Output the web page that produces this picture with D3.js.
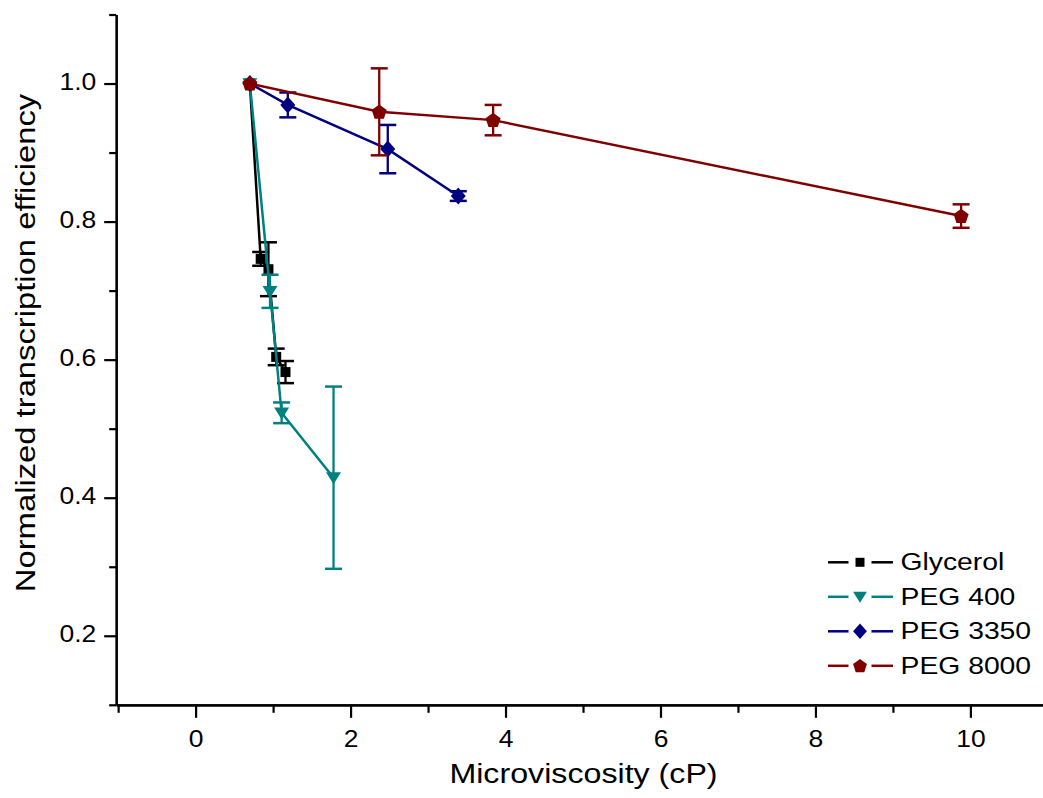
<!DOCTYPE html>
<html>
<head>
<meta charset="utf-8">
<script src="https://cdn.jsdelivr.net/npm/d3@7/dist/d3.min.js"></script>
<style>
  html, body { margin: 0; padding: 0; background: #fff; }
  svg { display: block; }
  text { font-family: "Liberation Sans", Arial, Helvetica, sans-serif; fill: #000; }
</style>
</head>
<body>
<svg id="chart" width="1043" height="798"></svg>
<script>
// ---- data ----
const seriesNames = ["Glycerol", "PEG 400", "PEG 3350", "PEG 8000"];

const glycerolX   = [0.70, 0.84, 0.94, 1.04, 1.16];
const glycerolY   = [1.000, 0.746, 0.731, 0.604, 0.582];
const glycerolErr = [0, 0.010, 0.039, 0.012, 0.016];

const peg400X   = [0.70, 0.96, 1.11, 1.78];
const peg400Y   = [1.000, 0.699, 0.523, 0.429];
const peg400Err = [0, 0.024, 0.015, 0.132];

const peg3350X   = [0.70, 1.19, 2.48, 3.39];
const peg3350Y   = [1.000, 0.969, 0.905, 0.837];
const peg3350Err = [0, 0.018, 0.035, 0.007];

const peg8000X   = [0.70, 2.37, 3.84, 9.88];
const peg8000Y   = [1.000, 0.959, 0.947, 0.808];
const peg8000Err = [0, 0.063, 0.022, 0.017];

const xMajorTicks = [0, 2, 4, 6, 8, 10];
const xMinorTicks = [-1, 1, 3, 5, 7, 9];
const yMajorTicks = [0.2, 0.4, 0.6, 0.8, 1.0];
const yMinorTicks = [0.1, 0.3, 0.5, 0.7, 0.9, 1.1];

const xTitle = "Microviscosity (cP)";
const yTitle = "Normalized transcription efficiency";

// ---- layout & style ----
const colors = ["#000000", "#008080", "#000080", "#800000"];
const markers = ["square", "triangleDown", "diamond", "pentagon"];
const stretch = 1.15;   // horizontal widening of the lettering

const svg = d3.select("#chart");
const plotLeft = 116.2, plotRight = 1043, plotTop = 14.5, plotBottom = 704.8;

const x = d3.scaleLinear().domain([-1.025, 10.937]).range([plotLeft, plotRight]);
const y = d3.scaleLinear().domain([0.1, 1.1]).range([plotBottom, plotTop]);

// marker path generators (centered at 0,0)
function markerPath(kind, k) {
  k = k || 1;
  if (kind === "square") {
    const h = 5 * k;
    return `M${-h},${-h}H${h}V${h}H${-h}Z`;
  }
  if (kind === "triangleDown") {
    const w = 7.5 * k, h = 12 * k;
    return `M${-w},${-h * 0.45}L${w},${-h * 0.45}L0,${h * 0.55}Z`;
  }
  if (kind === "diamond") {
    const w = 7.5 * k, h = 8.5 * k;
    return `M0,${-h}L${w},0L0,${h}L${-w},0Z`;
  }
  // pentagon, point up
  const r = 7.9 * k;
  const pts = d3.range(5).map(i => {
    const a = -Math.PI / 2 + i * 2 * Math.PI / 5;
    return [r * Math.cos(a), r * Math.sin(a) + 0.6 * k];
  });
  return "M" + pts.map(p => p.join(",")).join("L") + "Z";
}

// ---- axes ----
const gx = svg.append("g").attr("transform", `translate(0,${plotBottom})`);
gx.call(d3.axisBottom(x).tickValues(xMinorTicks).tickSize(8).tickSizeOuter(0).tickFormat(""));
gx.append("g").call(d3.axisBottom(x).tickValues(xMajorTicks).tickSize(13).tickSizeOuter(0)
  .tickFormat(d3.format("d")));
gx.selectAll("path.domain").attr("stroke-width", 2.2);
gx.selectAll(".tick line").attr("stroke-width", 2.2);
gx.selectAll(".tick text")
  .attr("y", null).attr("dy", null)
  .attr("transform", `translate(0,41.7) scale(${stretch},1)`)
  .attr("font-size", 23)
  .attr("fill", "#000")
  .style("font-family", '"Liberation Sans", Arial, sans-serif');

const gy = svg.append("g").attr("transform", `translate(${plotLeft},0)`);
gy.call(d3.axisLeft(y).tickValues(yMinorTicks).tickSize(7).tickSizeOuter(0).tickFormat(""));
gy.append("g").call(d3.axisLeft(y).tickValues(yMajorTicks).tickSize(12).tickSizeOuter(0)
  .tickFormat(d3.format(".1f")));
gy.selectAll("path.domain").attr("stroke-width", 2.2);
gy.selectAll(".tick line").attr("stroke-width", 2.2);
gy.selectAll(".tick text")
  .attr("x", null).attr("dy", null)
  .attr("transform", `translate(-20,6) scale(${stretch},1)`)
  .attr("font-size", 23)
  .attr("fill", "#000")
  .style("font-family", '"Liberation Sans", Arial, sans-serif');

// axis titles
svg.append("text")
  .attr("transform", `translate(583.5,783.3) scale(${stretch},1)`)
  .attr("text-anchor", "middle")
  .attr("font-size", 28)
  .text(xTitle);

svg.append("text")
  .attr("transform", `translate(35,343) rotate(-90) scale(${stretch},1)`)
  .attr("text-anchor", "middle")
  .attr("font-size", 28.5)
  .text(yTitle);

// ---- series ----
const series = [
  { name: seriesNames[0], xs: glycerolX, ys: glycerolY, es: glycerolErr },
  { name: seriesNames[1], xs: peg400X,   ys: peg400Y,   es: peg400Err },
  { name: seriesNames[2], xs: peg3350X,  ys: peg3350Y,  es: peg3350Err },
  { name: seriesNames[3], xs: peg8000X,  ys: peg8000Y,  es: peg8000Err }
];

const line = d3.line().x(d => x(d.x)).y(d => y(d.y));
const plot = svg.append("g");

series.forEach((s, i) => {
  const pts = s.xs.map((v, j) => ({ x: v, y: s.ys[j], e: s.es[j] }));
  const g = plot.append("g");
  const c = colors[i];

  g.append("path")
    .datum(pts)
    .attr("d", line)
    .attr("fill", "none")
    .attr("stroke", c)
    .attr("stroke-width", 2.5);

  const eb = g.selectAll(".err").data(pts.filter(p => p.e > 0)).enter().append("g");
  eb.append("line")
    .attr("x1", p => x(p.x)).attr("x2", p => x(p.x))
    .attr("y1", p => y(p.y + p.e)).attr("y2", p => y(p.y - p.e))
    .attr("stroke", c).attr("stroke-width", 2.3);
  [1, -1].forEach(sgn => {
    eb.append("line")
      .attr("x1", p => x(p.x) - 8.5).attr("x2", p => x(p.x) + 8.5)
      .attr("y1", p => y(p.y + sgn * p.e)).attr("y2", p => y(p.y + sgn * p.e))
      .attr("stroke", c).attr("stroke-width", 2.5);
  });

  g.selectAll(".mk").data(pts).enter().append("path")
    .attr("transform", p => `translate(${x(p.x)},${y(p.y)})`)
    .attr("d", markerPath(markers[i]))
    .attr("fill", c);
});

// ---- legend ----
const legend = svg.append("g").attr("transform", "translate(828,562.3)");
series.forEach((s, i) => {
  const row = legend.append("g").attr("transform", `translate(0,${i * 34.5})`);
  const c = colors[i];
  row.append("line").attr("x1", 0).attr("x2", 20.5).attr("y1", 0).attr("y2", 0)
    .attr("stroke", c).attr("stroke-width", 2.5);
  row.append("line").attr("x1", 43.5).attr("x2", 65).attr("y1", 0).attr("y2", 0)
    .attr("stroke", c).attr("stroke-width", 2.5);
  row.append("path")
    .attr("transform", "translate(32,0)")
    .attr("d", markerPath(markers[i], i === 0 ? 0.9 : 0.92))
    .attr("fill", c);
  row.append("text")
    .attr("transform", `translate(72.5,8) scale(1.18,1)`)
    .attr("font-size", 24)
    .text(s.name);
});
</script>
</body>
</html>
